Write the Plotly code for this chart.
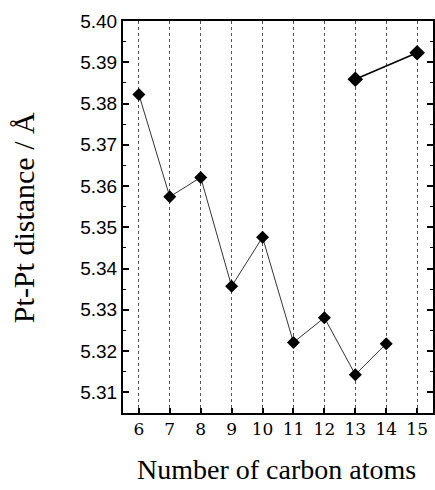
import plotly.graph_objects as go

# Data
carbons_a = [6, 7, 8, 9, 10, 11, 12, 13, 14]
dist_a = [5.3822, 5.3574, 5.3621, 5.3357, 5.3476, 5.3221, 5.3281, 5.3143, 5.3218]
carbons_b = [13, 15]
dist_b = [5.3859, 5.3923]
x_ticks = list(range(6, 16))
y_ticks = [5.31, 5.32, 5.33, 5.34, 5.35, 5.36, 5.37, 5.38, 5.39, 5.40]
y_tick_labels = [f"{v:.2f}" for v in y_ticks]

fig = go.Figure()
fig.add_trace(go.Scatter(
    x=carbons_a, y=dist_a, mode="lines+markers",
    line=dict(color="black", width=0.8),
    marker=dict(symbol="diamond", size=10, color="black"),
    showlegend=False,
))
fig.add_trace(go.Scatter(
    x=carbons_b, y=dist_b, mode="lines+markers",
    line=dict(color="black", width=1.6),
    marker=dict(symbol="diamond", size=12, color="black"),
    showlegend=False,
))

W, H = 435, 490
L, R, T, B = 123, 0, 21, 77
PW, PH = W - L - R, H - T - B

fig.update_layout(
    width=W, height=H,
    margin=dict(l=L, r=R, t=T, b=B),
    paper_bgcolor="white", plot_bgcolor="white",
    xaxis=dict(
        range=[5.487, 15.513], tickvals=x_ticks, ticktext=[str(v) for v in x_ticks],
        showgrid=True, gridcolor="#555", griddash="dot", gridwidth=1,
        showline=True, linecolor="black", linewidth=2, mirror=True,
        ticks="inside", ticklen=5, tickcolor="black", tickwidth=1.5,
        tickfont=dict(family="DejaVu Serif", size=17, color="black"),
        zeroline=False,
    ),
    yaxis=dict(
        range=[5.305, 5.40], tickvals=y_ticks, ticktext=y_tick_labels,
        showgrid=False,
        showline=True, linecolor="black", linewidth=2, mirror="allticks",
        ticks="inside", ticklen=6, tickcolor="black", tickwidth=1.5,
        minor=dict(ticks="inside", ticklen=3, dtick=0.005, tick0=5.305, tickcolor="black", tickwidth=1.2),
        tickfont=dict(family="Liberation Sans", size=19, color="black"),
        zeroline=False,
    ),
    annotations=[
        dict(text="Pt-Pt distance / Å", textangle=-90, xref="paper", yref="paper",
             x=(23 - L) / PW, y=(T + PH - 217.5) / PH, xanchor="center", yanchor="middle",
             showarrow=False, font=dict(family="Liberation Serif", size=30, color="black")),
        dict(text="Number of carbon atoms", xref="paper", yref="paper",
             x=(277 - L) / PW, y=(T + PH - 469) / PH, xanchor="center", yanchor="middle",
             showarrow=False, font=dict(family="Liberation Serif", size=28, color="black")),
    ],
)

fig.write_html("out.html", config={"displayModeBar": False},
               post_script="document.body.style.margin='0';")
